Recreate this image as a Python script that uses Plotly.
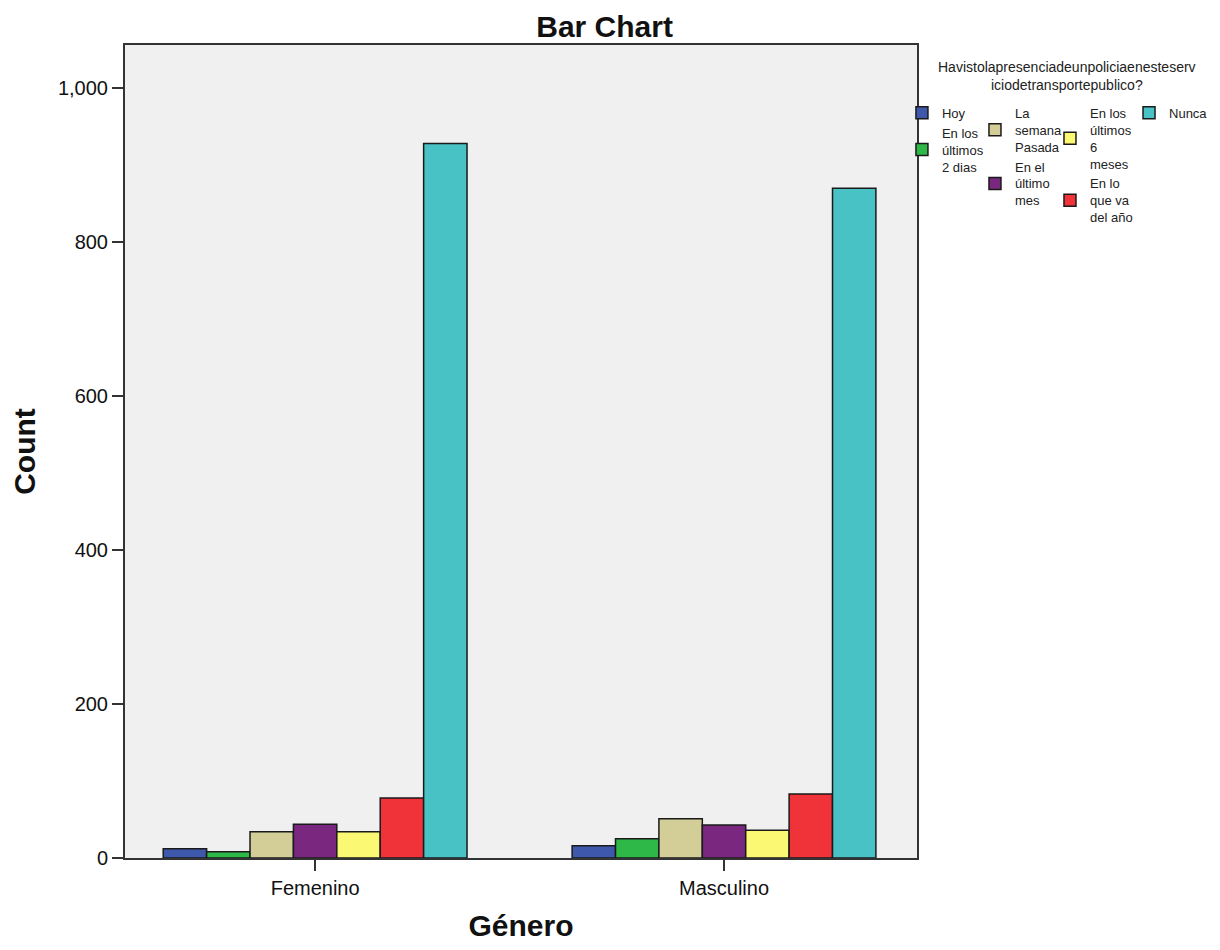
import plotly.graph_objects as go

categories = ["Femenino", "Masculino"]
series_names = ["Hoy", "En los<br>últimos<br>2 dias", "La<br>semana<br>Pasada", "En el<br>último<br>mes",
                "En los<br>últimos<br>6<br>meses", "En lo<br>que va<br>del año", "Nunca"]
hoy = [12, 16]
dos_dias = [8, 25]
semana = [34, 51]
ultimo_mes = [44, 43]
seis_meses = [34, 36]
anio = [78, 83]
nunca = [928, 870]
series_values = [hoy, dos_dias, semana, ultimo_mes, seis_meses, anio, nunca]
colors = ["#3E58AC", "#2EB848", "#D3CE97", "#7A287F", "#FBF873", "#EF3338", "#48C2C5"]
legend_ids = ["legend", "legend", "legend2", "legend2", "legend3", "legend3", "legend4"]
y_ticks = [0, 200, 400, 600, 800, 1000]
y_tick_labels = ["0", "200", "400", "600", "800", "1,000"]

FONT = "Liberation Sans, Arial, sans-serif"

fig = go.Figure()
for name, vals, col, lg in zip(series_names, series_values, colors, legend_ids):
    fig.add_trace(go.Bar(
        x=categories, y=vals, name=name, legend=lg,
        marker=dict(color=col, line=dict(color="#1a1a1a", width=1.5)),
    ))

leg_common = dict(
    orientation="v", yanchor="top", xanchor="left",
    font=dict(family=FONT, size=13, color="#222"),
    bgcolor="rgba(0,0,0,0)", borderwidth=0, tracegroupgap=0,
    itemclick=False, itemdoubleclick=False,
)
leg_y = 0.935
fig.update_layout(
    width=1204, height=934,
    paper_bgcolor="white", plot_bgcolor="#F0F0F0",
    margin=dict(l=117, r=295, t=37, b=84, autoexpand=False),
    barmode="group", bargap=0.257, bargroupgap=0,
    title=dict(text="<b>Bar Chart</b>", x=0.4955, xanchor="center", y=0.9807, yanchor="middle",
               font=dict(family=FONT, size=30, color="#111")),
    xaxis=dict(
        range=[-0.465, 1.472], showline=True, linecolor="#333", linewidth=2, mirror=True,
        ticks="outside", ticklen=11, tickcolor="#333", tickwidth=1.5, ticklabelstandoff=0,
        tickfont=dict(family=FONT, size=20, color="#111"),
        title=dict(text="<b>Género</b>", font=dict(family=FONT, size=30, color="#111"), standoff=27),
        showgrid=False,
    ),
    yaxis=dict(
        range=[0, 1056], tickvals=y_ticks, ticktext=y_tick_labels,
        showline=True, linecolor="#333", linewidth=2, mirror=True,
        ticks="outside", ticklen=11, tickcolor="#333", tickwidth=1.5, ticklabelstandoff=0,
        tickfont=dict(family=FONT, size=20, color="#111"),
        title=dict(text="<b>Count</b>", font=dict(family=FONT, size=30, color="#111"), standoff=20),
        showgrid=False, zeroline=False,
    ),
    legend=dict(x=0.981, y=leg_y, **leg_common),
    legend2=dict(x=1.0732, y=leg_y, **leg_common),
    legend3=dict(x=1.1679, y=leg_y, **leg_common),
    legend4=dict(x=1.2677, y=leg_y, **leg_common),
    showlegend=True,
)
fig.add_annotation(
    text="Havistolapresenciadeunpoliciaenesteserv<br>iciodetransportepublico?",
    xref="paper", yref="paper", x=1.189, y=0.9852, xanchor="center", yanchor="top",
    showarrow=False, align="center",
    font=dict(family=FONT, size=14, color="#222"),
)

fig.write_html("out.html")
